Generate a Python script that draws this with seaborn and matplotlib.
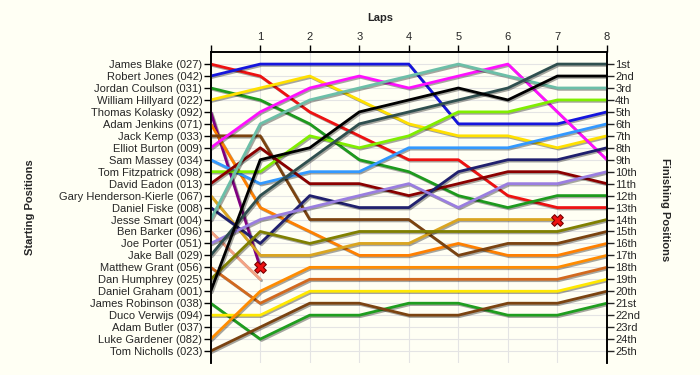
import pandas as pd
import matplotlib
matplotlib.use("Agg")
import matplotlib.pyplot as plt
import matplotlib.patheffects as pe
import seaborn as sns

# laps 0..8, position of each driver at the end of each lap (shorter list = retired)
laps = [0, 1, 2, 3, 4, 5, 6, 7, 8]

blake = [1, 2, 5, 7, 9, 9, 12, 13, 13]
jones = [2, 1, 1, 1, 1, 6, 6, 6, 5]
coulson = [3, 4, 6, 9, 10, 12, 13, 12, 12]
hillyard = [4, 3, 2, 4, 6, 7, 7, 8, 7]
kolasky = [5, 18]
jenkins = [6, 13, 15, 17, 17, 16, 17, 17, 16]
kemp = [7, 7, 14, 14, 14, 17, 16, 16, 15]
burton = [8, 5, 3, 2, 3, 2, 1, 5, 9]
massey = [9, 11, 10, 10, 8, 8, 8, 7, 6]
fitzpatrick = [10, 10, 7, 8, 7, 5, 5, 4, 4]
eadon = [11, 8, 11, 11, 12, 11, 10, 10, 11]
henderson = [12, 17, 17, 16, 16, 14, 14, 14]
fiske = [13, 16, 12, 13, 13, 10, 9, 9, 8]
smart = [14, 6, 4, 3, 2, 1, 2, 3, 3]
barker = [15, 19]
porter = [16, 14, 13, 12, 11, 13, 11, 11, 10]
ball = [17, 12, 9, 6, 5, 4, 3, 1, 1]
grant = [18, 21, 19, 19, 19, 19, 19, 19, 18]
humphrey = [19, 15, 16, 15, 15, 15, 15, 15, 14]
graham = [20, 9, 8, 5, 4, 3, 4, 2, 2]
robinson = [21, 24, 22, 22, 21, 21, 22, 22, 21]
verwijs = [22, 22, 20, 20, 20, 20, 20, 20, 19]
butler = []
gardener = [24, 20, 18, 18, 18, 18, 18, 18, 17]
nicholls = [25, 23, 21, 21, 22, 22, 21, 21, 20]

drivers = ["James Blake (027)", "Robert Jones (042)", "Jordan Coulson (031)",
           "William Hillyard (022)", "Thomas Kolasky (092)", "Adam Jenkins (071)",
           "Jack Kemp (033)", "Elliot Burton (009)", "Sam Massey (034)",
           "Tom Fitzpatrick (098)", "David Eadon (013)", "Gary Henderson-Kierle (067)",
           "Daniel Fiske (008)", "Jesse Smart (004)", "Ben Barker (096)",
           "Joe Porter (051)", "Jake Ball (029)", "Matthew Grant (056)",
           "Dan Humphrey (025)", "Daniel Graham (001)", "James Robinson (038)",
           "Duco Verwijs (094)", "Adam Butler (037)", "Luke Gardener (082)",
           "Tom Nicholls (023)"]
series = [blake, jones, coulson, hillyard, kolasky, jenkins, kemp, burton, massey,
          fitzpatrick, eadon, henderson, fiske, smart, barker, porter, ball, grant,
          humphrey, graham, robinson, verwijs, butler, gardener, nicholls]
colours = ["#ee1111", "#1515dd", "#1d9a1d", "#ffe000", "#800080", "#ff8000",
           "#7b4310", "#ff10ff", "#3399ff", "#80ee00", "#8b0000", "#daa520",
           "#20206e", "#6cbfa8", "#f4a283", "#9a7ee0", "#2f4f4f", "#d2691e",
           "#808000", "#000000", "#1f9e1f", "#ffe800", "#aaaaaa", "#ff8c00",
           "#7b4310"]
retired = ["Thomas Kolasky (092)", "Gary Henderson-Kierle (067)"]
finish_labels = ["1st", "2nd", "3rd"] + [f"{n}th" for n in range(4, 21)] + \
                ["21st", "22nd", "23rd", "24th", "25th"]

rows = []
for name, pos in zip(drivers, series):
    for lap, p in zip(laps, pos):
        rows.append({"driver": name, "lap": lap, "pos": p})
df = pd.DataFrame(rows)
palette = dict(zip(drivers, colours))

bg = "#fffff4"
sns.set_style("white")
plt.rcParams['font.family'] = ['Liberation Sans', 'DejaVu Sans']

fig = plt.figure(figsize=(7, 3.75), dpi=100, facecolor=bg)
ax = fig.add_axes([0.301, 0.032, 0.566, 0.829])
ax.set_facecolor(bg)

sns.lineplot(data=df, x="lap", y="pos", hue="driver", palette=palette,
             hue_order=[d for d, s in zip(drivers, series) if s],
             estimator=None, sort=False, lw=2, legend=False, ax=ax, zorder=3)
for line in ax.lines:
    line.set_path_effects([pe.SimpleLineShadow(offset=(1, -1), alpha=0.35),
                           pe.Normal()])

ends = df[df.driver.isin(retired)].groupby("driver").tail(1)
sns.scatterplot(data=ends, x="lap", y="pos", marker="X", s=70, color="#ee1111",
                edgecolor="#7a0000", linewidth=0.8, legend=False, ax=ax, zorder=5)

ax.set_xlim(0, 8)
ax.set_ylim(26, 0)
ax.grid(True, color="#e4e4e4", lw=0.8, zorder=0)
ax.set_axisbelow(True)

ax.xaxis.tick_top()
ax.set_xticks(laps)
ax.set_xticklabels([""] + [str(l) for l in laps[1:]])
ax.set_yticks(range(1, 26))
ax.set_yticklabels(drivers)
ax.tick_params(axis="both", direction="out", length=5, width=1, color="black",
               labelsize=8, pad=1)
ax.tick_params(axis="x", pad=2)
ax.set_xlabel("")
ax.set_ylabel("")

ax2 = ax.twinx()
ax2.set_ylim(26, 0)
ax2.set_yticks(range(1, 26))
ax2.set_yticklabels(finish_labels)
ax2.tick_params(axis="y", direction="out", length=5, width=1, labelsize=8, pad=1)
ax2.grid(False)

for a in (ax, ax2):
    a.spines["bottom"].set_visible(False)
    for s in ("left", "right", "top"):
        a.spines[s].set_color("black")
        a.spines[s].set_linewidth(1.2)

fig.text(0.543, 0.952, "Laps", ha="center", va="center", fontsize=8, fontweight="bold")
fig.text(0.043, 0.448, "Starting Positions", ha="center", va="center", rotation=90,
         fontsize=8, fontweight="bold")
fig.text(0.95, 0.44, "Finishing Positions", ha="center", va="center", rotation=270,
         fontsize=8, fontweight="bold")

fig.savefig("out.png", dpi=100, facecolor=bg)
